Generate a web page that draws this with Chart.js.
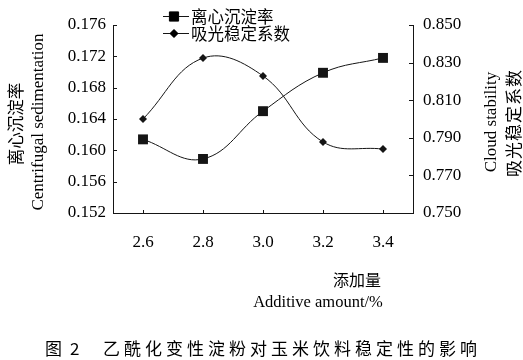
<!DOCTYPE html>
<html>
<head>
<meta charset="utf-8">
<script src="https://cdn.jsdelivr.net/npm/chart.js@4/dist/chart.umd.min.js"></script>
<style>
  html, body { margin: 0; padding: 0; background: #fff; }
  #wrap { position: relative; width: 523px; height: 360px; overflow: hidden; }
  #chart { position: absolute; left: 0; top: 0; }
  .lbl { position: absolute; white-space: nowrap; color: #000; line-height: 1; }
  .cn { font-family: "Noto Sans CJK SC", sans-serif; }
  .en { font-family: "Liberation Serif", "DejaVu Serif", serif; }
  .rot { transform: translate(-50%, -50%) rotate(-90deg); }
  .mid { transform: translate(-50%, -50%); }
</style>
</head>
<body>
<div id="wrap">
  <canvas id="chart" width="523" height="360"></canvas>
  <div class="lbl cn rot" style="left:15px; top:124px; font-size:16.5px;">离心沉淀率</div>
  <div class="lbl en rot" style="left:37px; top:122px; font-size:17px;">Centrifugal sedimentation</div>
  <div class="lbl en rot" style="left:490px; top:122px; font-size:17px;">Cloud stability</div>
  <div class="lbl cn rot" style="left:512px; top:123px; font-size:17px; letter-spacing:1px;">吸光稳定系数</div>
  <div class="lbl cn mid" style="left:357px; top:279px; font-size:16px;">添加量</div>
  <div class="lbl en mid" style="left:318px; top:302px; font-size:16.5px;">Additive amount/%</div>
  <div class="lbl cn" style="left:45px; top:339px; font-size:17px;">图</div>
  <div class="lbl cn" style="left:70px; top:339px; font-size:17px;">2</div>
  <div class="lbl cn" style="left:103px; top:339px; font-size:17px; letter-spacing:4px;">乙酰化变性淀粉对玉米饮料稳定性的影响</div>
</div>
<script>
// 数据
const additive = ['2.6', '2.8', '3.0', '3.2', '3.4'];
const centrifugal = [0.1614, 0.1589, 0.1650, 0.1699, 0.1718];
const cloudStability = [0.8000, 0.8324, 0.8229, 0.7878, 0.7840];
const seriesNames = ['离心沉淀率', '吸光稳定系数'];

const leftRange = [0.152, 0.176, 0.004];
const rightRange = [0.750, 0.850, 0.020];

const ink = '#151515';

// 内侧刻度 + 图例
const extras = {
  id: 'extras',
  afterDraw(chart) {
    const ctx = chart.ctx;
    const area = chart.chartArea;
    const yL = chart.scales.y;
    const yR = chart.scales.y1;
    const xs = chart.scales.x;

    ctx.save();
    ctx.strokeStyle = ink;
    ctx.lineWidth = 1;
    ctx.beginPath();
    yL.ticks.forEach(t => {
      const py = Math.round(yL.getPixelForValue(t.value)) + 0.5;
      ctx.moveTo(area.left, py);
      ctx.lineTo(area.left + 4, py);
    });
    yR.ticks.forEach(t => {
      const py = Math.round(yR.getPixelForValue(t.value)) + 0.5;
      ctx.moveTo(area.right, py);
      ctx.lineTo(area.right - 4, py);
    });
    xs.ticks.forEach((t, i) => {
      const px = Math.round(xs.getPixelForTick(i)) + 0.5;
      ctx.moveTo(px, area.bottom);
      ctx.lineTo(px, area.bottom - 3);
    });
    ctx.stroke();

    // 图例
    const rows = [
      { y: 16, style: 'rect', radius: 6.5 },
      { y: 33, style: 'rectRot', radius: 4 }
    ];
    ctx.font = '16.5px "Noto Sans CJK SC", sans-serif';
    ctx.textBaseline = 'middle';
    ctx.fillStyle = '#000';
    rows.forEach((r, i) => {
      ctx.beginPath();
      ctx.moveTo(163, r.y + 0.5);
      ctx.lineTo(189, r.y + 0.5);
      ctx.stroke();
      Chart.helpers.drawPoint(ctx, { pointStyle: r.style, radius: r.radius, borderWidth: 1 }, 174, r.y + 0.5);
      ctx.fill();
      ctx.fillText(seriesNames[i], 191, r.y + 1);
    });
    ctx.restore();
  }
};

const ctx = document.getElementById('chart').getContext('2d');

new Chart(ctx, {
  type: 'line',
  data: {
    labels: additive,
    datasets: [
      {
        label: seriesNames[0],
        data: centrifugal,
        yAxisID: 'y',
        borderColor: ink,
        backgroundColor: ink,
        borderWidth: 1,
        tension: 0.4,
        pointStyle: 'rect',
        pointRadius: 7,
        pointBorderWidth: 0
      },
      {
        label: seriesNames[1],
        data: cloudStability,
        yAxisID: 'y1',
        borderColor: ink,
        backgroundColor: ink,
        borderWidth: 1,
        tension: 0.4,
        pointStyle: 'rectRot',
        pointRadius: 4,
        pointBorderWidth: 0
      }
    ]
  },
  options: {
    responsive: false,
    animation: false,
    events: [],
    layout: { padding: { top: 25, left: 0, right: 0, bottom: 0 } },
    plugins: {
      legend: { display: false },
      tooltip: { enabled: false }
    },
    scales: {
      x: {
        type: 'category',
        offset: true,
        afterFit: s => { s.height = 147; },
        grid: { display: false, drawTicks: false },
        border: { display: true, color: ink, width: 1 },
        ticks: {
          padding: 19,
          color: '#000',
          font: { family: '"Liberation Serif", serif', size: 17 }
        }
      },
      y: {
        position: 'left',
        min: leftRange[0],
        max: leftRange[1],
        afterFit: s => { s.width = 113; },
        grid: { display: false, drawTicks: false },
        border: { display: true, color: ink, width: 1 },
        ticks: {
          stepSize: leftRange[2],
          padding: 7,
          color: '#000',
          font: { family: '"Liberation Serif", serif', size: 17 },
          callback: v => v.toFixed(3)
        }
      },
      y1: {
        position: 'right',
        min: rightRange[0],
        max: rightRange[1],
        afterFit: s => { s.width = 110; },
        grid: { display: false, drawTicks: false },
        border: { display: true, color: ink, width: 1 },
        ticks: {
          stepSize: rightRange[2],
          padding: 10,
          color: '#000',
          font: { family: '"Liberation Serif", serif', size: 17 },
          callback: v => v.toFixed(3)
        }
      }
    }
  },
  plugins: [extras]
});
</script>
</body>
</html>
